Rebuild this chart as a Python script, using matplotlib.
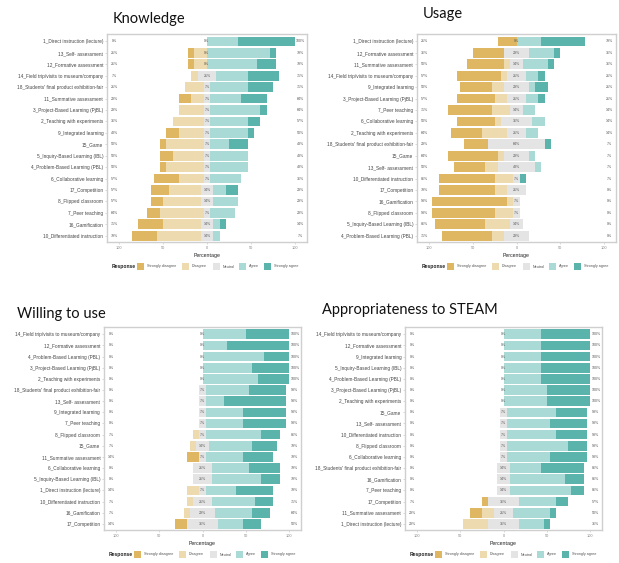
import matplotlib
matplotlib.use("Agg")
import matplotlib.pyplot as plt
from matplotlib.patches import Rectangle
import numpy as np

# number of respondents per item
N_RESP = 14
responses = ["Strongly disagree", "Disagree", "Neutral", "Agree", "Strongly agree"]
colors = ["#DFB763", "#EDDAAE", "#E4E4E4", "#AADAD5", "#5AB4AC"]

# Knowledge (counts per response, top to bottom)
items_k = ["1_Direct instruction (lecture)", "13_Self- assessment", "12_Formative assessment",
           "14_Field trip/visits to museum/company", "18_Students' final product exhibition-fair",
           "11_Summative assessment", "3_Project-Based Learning (PjBL)", "2_Teaching with experiments",
           "9_Integrated learning", "15_Game", "5_Inquiry-Based Learning (IBL)",
           "4_Problem-Based Learning (PBL)", "6_Collaborative learning", "17_Competition",
           "8_Flipped classroom", "7_Peer teaching", "16_Gamification", "10_Differentiated instruction"]
sd_k = [0, 1, 1, 0, 0, 2, 0, 0, 2, 1, 2, 1, 4, 3, 2, 2, 4, 4]
d_k = [0, 2, 2, 1, 3, 2, 4, 5, 4, 6, 5, 6, 4, 5, 6, 7, 6, 7]
n_k = [0, 0, 0, 3, 1, 1, 1, 1, 1, 1, 1, 1, 1, 2, 2, 1, 2, 2]
a_k = [5, 10, 8, 5, 6, 5, 8, 6, 6, 3, 6, 6, 5, 2, 4, 4, 1, 1]
sa_k = [9, 1, 3, 5, 4, 4, 1, 2, 1, 3, 0, 0, 0, 2, 0, 0, 1, 0]

# Usage
items_u = ["1_Direct instruction (lecture)", "12_Formative assessment", "11_Summative assessment",
           "14_Field trip/visits to museum/company", "9_Integrated learning",
           "3_Project-Based Learning (PjBL)", "7_Peer teaching", "6_Collaborative learning",
           "2_Teaching with experiments", "18_Students' final product exhibition-fair", "15_Game",
           "13_Self- assessment", "10_Differentiated instruction", "17_Competition", "16_Gamification",
           "8_Flipped classroom", "5_Inquiry-Based Learning (IBL)", "4_Problem-Based Learning (PBL)"]
sd_u = [3, 5, 6, 7, 5, 6, 7, 6, 5, 4, 8, 5, 9, 9, 12, 10, 8, 8]
d_u = [0, 0, 1, 1, 2, 2, 3, 1, 4, 0, 1, 2, 3, 2, 1, 3, 4, 2]
n_u = [0, 4, 2, 3, 4, 3, 2, 5, 3, 9, 4, 6, 1, 3, 1, 1, 2, 4]
a_u = [4, 4, 4, 2, 1, 2, 2, 2, 2, 0, 1, 1, 0, 0, 0, 0, 0, 0]
sa_u = [7, 1, 1, 1, 2, 1, 0, 0, 0, 1, 0, 0, 1, 0, 0, 0, 0, 0]

# Willing to use
items_w = ["14_Field trip/visits to museum/company", "12_Formative assessment",
           "4_Problem-Based Learning (PBL)", "3_Project-Based Learning (PjBL)",
           "2_Teaching with experiments", "18_Students' final product exhibition-fair",
           "13_Self- assessment", "9_Integrated learning", "7_Peer teaching", "8_Flipped classroom",
           "15_Game", "11_Summative assessment", "6_Collaborative learning",
           "5_Inquiry-Based Learning (IBL)", "1_Direct instruction (lecture)",
           "10_Differentiated instruction", "16_Gamification", "17_Competition"]
sd_w = [0, 0, 0, 0, 0, 0, 0, 0, 0, 0, 0, 2, 0, 0, 0, 0, 0, 2]
d_w = [0, 0, 0, 0, 0, 0, 0, 0, 0, 1, 1, 0, 0, 0, 2, 1, 1, 0]
n_w = [0, 0, 0, 0, 0, 1, 1, 1, 1, 1, 2, 1, 3, 3, 1, 3, 4, 5]
a_w = [7, 4, 10, 8, 9, 7, 3, 6, 6, 9, 7, 6, 6, 8, 5, 7, 6, 4]
sa_w = [7, 10, 4, 6, 5, 6, 10, 7, 7, 3, 4, 5, 5, 3, 6, 3, 3, 3]

# Appropriateness to STEAM
items_s = ["14_Field trip/visits to museum/company", "12_Formative assessment", "9_Integrated learning",
           "5_Inquiry-Based Learning (IBL)", "4_Problem-Based Learning (PBL)",
           "3_Project-Based Learning (PjBL)", "2_Teaching with experiments", "15_Game",
           "13_Self- assessment", "10_Differentiated instruction", "8_Flipped classroom",
           "6_Collaborative learning", "18_Students' final product exhibition-fair", "16_Gamification",
           "7_Peer teaching", "17_Competition", "11_Summative assessment", "1_Direct instruction (lecture)"]
sd_s = [0, 0, 0, 0, 0, 0, 0, 0, 0, 0, 0, 0, 0, 0, 0, 1, 2, 0]
d_s = [0, 0, 0, 0, 0, 0, 0, 0, 0, 0, 0, 0, 0, 0, 0, 0, 2, 4]
n_s = [0, 0, 0, 0, 0, 0, 0, 1, 1, 1, 1, 1, 2, 2, 2, 5, 3, 5]
a_s = [6, 6, 6, 6, 6, 7, 7, 8, 7, 8, 10, 7, 5, 9, 10, 6, 6, 4]
sa_s = [8, 8, 8, 8, 8, 7, 7, 5, 6, 5, 3, 6, 7, 3, 2, 2, 1, 1]

W, H = 619, 563
fig = plt.figure(figsize=(W / 100, H / 100), dpi=100)
txt_font = ["Liberation Sans", "DejaVu Sans"]


def px_box(l, t, r, b):
    return [l / W, 1 - b / H, (r - l) / W, (b - t) / H]


def likert(ax, items, sd, d, n, a, sa):
    sd, d, n, a, sa = [np.array(v) * 100.0 / N_RESP for v in (sd, d, n, a, sa)]
    y = np.arange(len(items))
    h = 0.86
    ax.barh(y, sd, left=-n / 2 - d - sd, height=h, color=colors[0], linewidth=0)
    ax.barh(y, d, left=-n / 2 - d, height=h, color=colors[1], linewidth=0)
    ax.barh(y, n, left=-n / 2, height=h, color=colors[2], linewidth=0)
    ax.barh(y, a, left=n / 2, height=h, color=colors[3], linewidth=0)
    ax.barh(y, sa, left=n / 2 + a, height=h, color=colors[4], linewidth=0)
    for yi, lo, mid, hi in zip(y, sd + d, n, a + sa):
        for xv, v in ((-105, lo), (0, mid), (107, hi)):
            ax.text(xv, yi, f"{round(v):.0f}%", ha="center", va="center",
                    fontsize=2.6, color="#555555", family=txt_font)
    ax.set_xlim(-114, 114)
    ax.set_ylim(len(items) - 0.45, -0.65)
    ax.set_yticks(y, items, fontsize=3.4, color="#444444", family=txt_font)
    ax.set_xticks([-100, -50, 0, 50, 100], ["100", "50", "0", "50", "100"],
                  fontsize=2.8, color="#888888", family=txt_font)
    ax.tick_params(axis="both", length=1.2, width=0.4, color="#bbbbbb", pad=1.5)
    ax.set_xlabel("Percentage", fontsize=3.8, color="#222222", labelpad=2, family=txt_font)
    for sp in ax.spines.values():
        sp.set_color("#cfcfcf")
        sp.set_linewidth(1.0)


def legend(left, top):
    # legend row drawn under each panel, offsets in pixels
    fig.text(left / W, 1 - (top + 3.5) / H, "Response", fontsize=3.6, fontweight="bold",
             va="center", ha="left", family=txt_font, color="#222222")
    offs = [25, 70, 101, 127, 152]
    for off, lab, col in zip(offs, responses, colors):
        x0 = left + off
        fig.patches.append(Rectangle((x0 / W, 1 - (top + 7) / H), 7 / W, 7 / H,
                                     transform=fig.transFigure, facecolor=col,
                                     edgecolor="none"))
        fig.text((x0 + 10) / W, 1 - (top + 3.5) / H, lab, fontsize=2.7, va="center",
                 ha="left", family=txt_font, color="#555555")


panels = [
    ("Knowledge", (107, 34, 307, 242), (113, 23), (items_k, sd_k, d_k, n_k, a_k, sa_k)),
    ("Usage", (417, 34, 616, 242), (423, 18), (items_u, sd_u, d_u, n_u, a_u, sa_u)),
    ("Willing to use", (104, 327, 301, 530), (17, 318), (items_w, sd_w, d_w, n_w, a_w, sa_w)),
    ("Appropriateness to STEAM", (405, 327, 602, 530), (322, 314),
     (items_s, sd_s, d_s, n_s, a_s, sa_s)),
]

for title, bx, tpos, data in panels:
    ax = fig.add_axes(px_box(*bx))
    likert(ax, *data)
    fig.text(tpos[0] / W, 1 - tpos[1] / H, title, fontsize=10.5, family=["Lato", "DejaVu Sans"],
             ha="left", va="baseline", color="#111111")
    legend(bx[0] + 5, bx[3] + 21)

fig.savefig("out.png", dpi=100)
